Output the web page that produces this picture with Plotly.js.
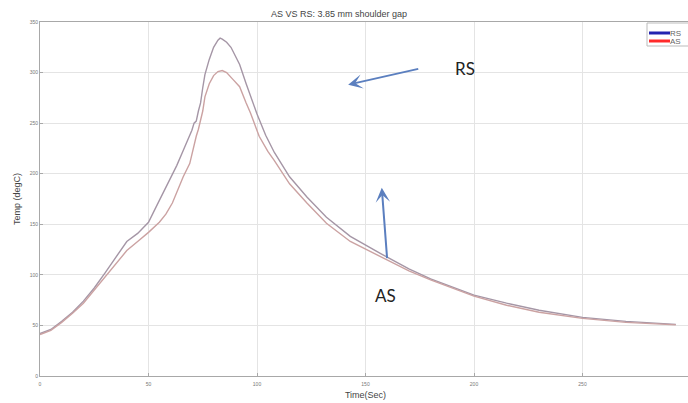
<!DOCTYPE html>
<html>
<head>
<meta charset="utf-8">
<script src="https://cdn.plot.ly/plotly-3.0.1.min.js"></script>
<style>
html,body{margin:0;padding:0;background:#fff;overflow:hidden;width:688px;height:403px;}
#chart{width:692px;height:403px;}
</style>
</head>
<body>
<div id="chart"></div>
<script>
// Time (s)
const timeRS = [0, 5, 10, 15, 20, 25, 30, 35, 40, 45, 50, 53, 56, 60, 63, 66, 69, 70, 71, 72, 73, 74, 75, 76, 78, 80, 82, 83, 84, 86, 88, 90, 92, 95, 97, 100, 104, 108, 115, 123, 132, 143, 157, 170, 180, 190, 200, 215, 230, 250, 270, 293];
const tempRS = [42, 46, 54, 63, 74, 87, 102, 118, 133, 141, 152, 165, 178, 195, 208, 223, 237, 243, 250, 252, 262, 270, 285, 298, 313, 325, 332, 334, 333, 330, 325, 317, 308, 289, 277, 259, 238, 221, 197, 177, 157, 138, 121, 106, 96, 88, 80, 72, 65, 58, 54, 51];
const timeAS = [0, 5, 10, 15, 20, 25, 30, 35, 40, 45, 50, 55, 58, 61, 64, 66, 69, 71, 72, 73, 74, 75, 76, 78, 80, 82, 84, 86, 89, 92, 95, 97, 101, 105, 108, 115, 123, 132, 143, 157, 170, 180, 190, 200, 215, 230, 250, 270, 293];
const tempAS = [41, 45, 53, 62, 72, 85, 99, 112, 124, 133, 142, 152, 160, 171, 186, 197, 210, 229, 237, 244, 253, 262, 276, 289, 297, 301, 302, 300, 293, 286, 270, 260, 237, 222, 213, 190, 171, 151, 133, 118, 104, 95, 87, 79, 70, 63, 57, 53, 50.5];
const seriesNames = ["RS", "AS"];
const legendColors = ["#2424b0", "#ff2a2a"];
const xTicks = [0, 50, 100, 150, 200, 250, 300];
const yTicks = [0, 50, 100, 150, 200, 250, 300, 350];

const W = 692, H = 403, L = 40, R = 1, T = 22, B = 27;
const px = x => (x - L) / (W - L - R);
const py = y => (H - B - y) / (H - T - B);

const traces = [
  {x: timeRS, y: tempRS, name: seriesNames[0], mode: "lines", line: {color: "#a596a6", width: 1.4}, showlegend: false},
  {x: timeAS, y: tempAS, name: seriesNames[1], mode: "lines", line: {color: "#cba2a2", width: 1.4}, showlegend: false}
];

const shapes = [
  {type: "rect", xref: "paper", yref: "paper", x0: px(647), x1: px(700), y0: py(46), y1: py(23), line: {color: "#bbbbbb", width: 1}, fillcolor: "#ffffff"},
  {type: "line", xref: "paper", yref: "paper", x0: px(649), x1: px(670), y0: py(33), y1: py(33), line: {color: legendColors[0], width: 3}},
  {type: "line", xref: "paper", yref: "paper", x0: px(649), x1: px(670), y0: py(41), y1: py(41), line: {color: legendColors[1], width: 3}}
];

const annotations = [
  {xref: "paper", yref: "paper", x: px(669), y: py(33), text: seriesNames[0], showarrow: false, xanchor: "left", yanchor: "middle", borderpad: 0, font: {family: "Liberation Sans, Arial", size: 8, color: "#666"}},
  {xref: "paper", yref: "paper", x: px(669), y: py(41.5), text: seriesNames[1], showarrow: false, xanchor: "left", yanchor: "middle", borderpad: 0, font: {family: "Liberation Sans, Arial", size: 8, color: "#666"}},
  {x: 142, y: 288, ax: 175, ay: 304, axref: "x", ayref: "y", xref: "x", yref: "y", text: "", showarrow: true, arrowhead: 3, arrowsize: 1.2, arrowwidth: 2, arrowcolor: "#5b7fbf"},
  {x: 157.5, y: 186, ax: 160, ay: 115, axref: "x", ayref: "y", xref: "x", yref: "y", text: "", showarrow: true, arrowhead: 3, arrowsize: 1.2, arrowwidth: 2, arrowcolor: "#5b7fbf"},
  {x: 196, y: 304, xref: "x", yref: "y", text: "RS", showarrow: false, font: {family: "Lato, Open Sans", size: 17, color: "#222"}},
  {x: 159, y: 80, xref: "x", yref: "y", text: "AS", showarrow: false, font: {family: "Lato, Open Sans", size: 17, color: "#222"}}
];

const layout = {
  width: W, height: H,
  margin: {l: L, r: R, t: T, b: B},
  paper_bgcolor: "#ffffff", plot_bgcolor: "#ffffff",
  title: {text: "AS VS RS: 3.85 mm shoulder gap", font: {family: "Liberation Sans, Arial", size: 9, color: "#444"}, x: 0.49, xanchor: "center", y: 0.966, yanchor: "middle"},
  xaxis: {
    range: [0, 300], tickvals: xTicks, ticktext: xTicks.map(String),
    showgrid: true, gridcolor: "#e4e4e4", gridwidth: 1,
    showline: true, linecolor: "#a8a8a8", linewidth: 1, mirror: true,
    ticks: "inside", ticklen: 3, tickcolor: "#a8a8a8",
    tickfont: {family: "Liberation Sans, Arial", size: 5, color: "#777"},
    ticklabelstandoff: 3,
    zeroline: false,
    title: {text: "Time(Sec)", font: {family: "Liberation Sans, Arial", size: 9, color: "#444"}, standoff: 5}
  },
  yaxis: {
    range: [0, 350], tickvals: yTicks, ticktext: yTicks.map(String),
    showgrid: true, gridcolor: "#e4e4e4", gridwidth: 1,
    showline: true, linecolor: "#a8a8a8", linewidth: 1, mirror: true,
    ticks: "inside", ticklen: 3, tickcolor: "#a8a8a8",
    tickfont: {family: "Liberation Sans, Arial", size: 5, color: "#777"},
    zeroline: false,
    title: {text: "Temp (degC)", font: {family: "Liberation Sans, Arial", size: 9, color: "#444"}, standoff: 7}
  },
  shapes: shapes,
  annotations: annotations,
  showlegend: false
};

Plotly.newPlot("chart", traces, layout, {displayModeBar: false, staticPlot: true});
</script>
</body>
</html>
